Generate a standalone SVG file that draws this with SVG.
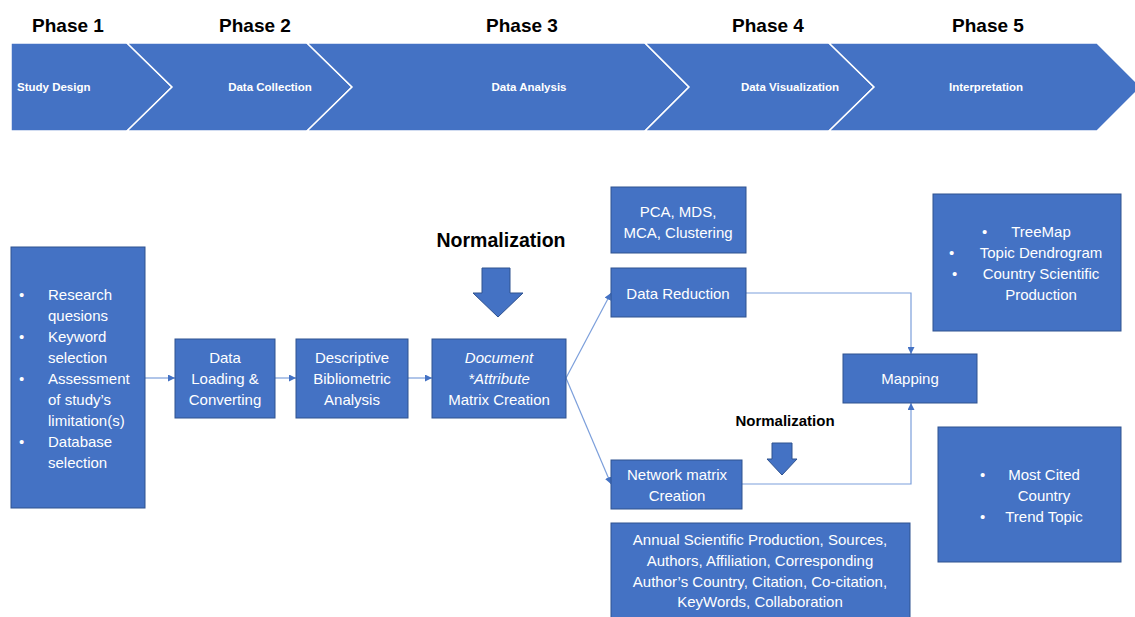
<svg xmlns="http://www.w3.org/2000/svg" width="1135" height="617" viewBox="0 0 1135 617">
<defs>
<style>
.chev{fill:#4472C4;stroke:#FFFFFF;stroke-width:1.5;stroke-linejoin:miter}
.box{fill:#4472C4;stroke:#2F528F;stroke-width:1}
.phase{font-family:"Liberation Sans",Arial,sans-serif;font-weight:bold;font-size:19px;fill:#000;text-anchor:middle}
.clab{font-family:"Liberation Sans",Arial,sans-serif;font-weight:bold;font-size:11.5px;fill:#fff}
.t{font-family:"Liberation Sans",Arial,sans-serif;font-size:15px;fill:#fff}
.c{text-anchor:middle}
.norm{font-family:"Liberation Sans",Arial,sans-serif;font-weight:bold;fill:#000;text-anchor:middle}
.conn{fill:none;stroke:#7C9FDB;stroke-width:1.2}
.blk{fill:#4472C4;stroke:#2F528F;stroke-width:1}
</style>
<marker id="ah" viewBox="0 0 10 10" refX="10" refY="5" markerWidth="7" markerHeight="7" markerUnits="userSpaceOnUse" orient="auto">
<path d="M0,0 L10,5 L0,10 z" fill="#4472C4"/>
</marker>
</defs>
<rect width="1135" height="617" fill="#fff"/>

<g id="phase-labels">
<text class="phase" x="68" y="32">Phase 1</text>
<text class="phase" x="255" y="32">Phase 2</text>
<text class="phase" x="522" y="32">Phase 3</text>
<text class="phase" x="768" y="32">Phase 4</text>
<text class="phase" x="988" y="32">Phase 5</text>
</g>

<g id="chevron-study-design">
<polygon class="chev" points="11,43 127,43 172,87 127,131 11,131"/>
<text class="clab" x="17" y="91">Study Design</text>
</g>
<g id="chevron-data-collection">
<polygon class="chev" points="127,43 307,43 352,87 307,131 127,131 172,87"/>
<text class="clab c" x="270" y="91">Data Collection</text>
</g>
<g id="chevron-data-analysis">
<polygon class="chev" points="307,43 645,43 689,87 645,131 307,131 352,87"/>
<text class="clab c" x="529" y="91">Data Analysis</text>
</g>
<g id="chevron-data-visualization">
<polygon class="chev" points="645,43 829,43 874,87 829,131 645,131 689,87"/>
<text class="clab c" x="790" y="91">Data Visualization</text>
</g>
<g id="chevron-interpretation">
<polygon class="chev" points="829,43 1097,43 1141,87 1097,131 829,131 874,87"/>
<text class="clab c" x="986" y="91">Interpretation</text>
</g>

<g id="connectors">
<line class="conn" x1="145" y1="378" x2="175" y2="378" marker-end="url(#ah)"/>
<line class="conn" x1="275" y1="378" x2="296" y2="378" marker-end="url(#ah)"/>
<line class="conn" x1="408" y1="378" x2="432" y2="378" marker-end="url(#ah)"/>
<line class="conn" x1="566" y1="378" x2="611" y2="293" marker-end="url(#ah)"/>
<line class="conn" x1="566" y1="378" x2="611" y2="484" marker-end="url(#ah)"/>
<polyline class="conn" points="746,293 911,293 911,354" marker-end="url(#ah)"/>
<polyline class="conn" points="742,484 911,484 911,403" marker-end="url(#ah)"/>
</g>

<g id="node-study-design">
<rect class="box" x="11" y="247" width="134" height="261"/>
<g class="t">
<text x="19" y="300">•</text><text x="48" y="300">Research</text>
<text x="48" y="321">quesions</text>
<text x="19" y="342">•</text><text x="48" y="342">Keyword</text>
<text x="48" y="363">selection</text>
<text x="19" y="384">•</text><text x="48" y="384">Assessment</text>
<text x="48" y="405">of study’s</text>
<text x="48" y="426">limitation(s)</text>
<text x="19" y="447">•</text><text x="48" y="447">Database</text>
<text x="48" y="468">selection</text>
</g>
</g>

<g id="node-data-loading">
<rect class="box" x="175" y="339" width="100" height="79"/>
<text class="t c" x="225" y="363">Data</text>
<text class="t c" x="225" y="384">Loading &amp;</text>
<text class="t c" x="225" y="405">Converting</text>
</g>

<g id="node-descriptive">
<rect class="box" x="296" y="339" width="112" height="79"/>
<text class="t c" x="352" y="363">Descriptive</text>
<text class="t c" x="352" y="384">Bibliometric</text>
<text class="t c" x="352" y="405">Analysis</text>
</g>

<g id="node-normalization-1">
<text class="norm" x="501" y="247" font-size="19.5">Normalization</text>
<polygon class="blk" points="482,268 510,268 510,293 523,293 498,317 473,293 482,293"/>
</g>

<g id="node-document-matrix">
<rect class="box" x="432" y="339" width="134" height="79"/>
<text class="t c" x="499" y="363" font-style="italic">Document</text>
<text class="t c" x="499" y="384" font-style="italic">*Attribute</text>
<text class="t c" x="499" y="405">Matrix Creation</text>
</g>

<g id="node-pca">
<rect class="box" x="611" y="187" width="135" height="66"/>
<text class="t c" x="678" y="217">PCA, MDS,</text>
<text class="t c" x="678" y="238">MCA, Clustering</text>
</g>

<g id="node-data-reduction">
<rect class="box" x="611" y="268" width="135" height="49"/>
<text class="t c" x="678" y="299">Data Reduction</text>
</g>

<g id="node-normalization-2">
<text class="norm" x="785" y="426" font-size="15">Normalization</text>
<polygon class="blk" points="772,443 792,443 792,459 797,459 782,475 767,459 772,459"/>
</g>

<g id="node-network-matrix">
<rect class="box" x="611" y="460" width="131" height="49"/>
<text class="t c" x="677" y="480">Network matrix</text>
<text class="t c" x="677" y="501">Creation</text>
</g>

<g id="node-annual">
<rect class="box" x="611" y="523" width="299" height="100"/>
<text class="t c" x="760" y="545">Annual Scientific Production, Sources,</text>
<text class="t c" x="760" y="566">Authors, Affiliation, Corresponding</text>
<text class="t c" x="760" y="587">Author’s Country, Citation, Co-citation,</text>
<text class="t c" x="760" y="607">KeyWords, Collaboration</text>
</g>

<g id="node-mapping">
<rect class="box" x="843" y="354" width="134" height="49"/>
<text class="t c" x="910" y="384">Mapping</text>
</g>

<g id="node-treemap">
<rect class="box" x="933" y="194" width="188" height="137"/>
<g class="t">
<text x="982" y="237">•</text><text class="c" x="1041" y="237">TreeMap</text>
<text x="949" y="258">•</text><text class="c" x="1041" y="258">Topic Dendrogram</text>
<text x="952" y="279">•</text><text class="c" x="1041" y="279">Country Scientific</text>
<text class="c" x="1041" y="300">Production</text>
</g>
</g>

<g id="node-most-cited">
<rect class="box" x="938" y="427" width="183" height="135"/>
<g class="t">
<text x="980" y="480">•</text><text class="c" x="1044" y="480">Most Cited</text>
<text class="c" x="1044" y="501">Country</text>
<text x="980" y="522">•</text><text class="c" x="1044" y="522">Trend Topic</text>
</g>
</g>
</svg>
